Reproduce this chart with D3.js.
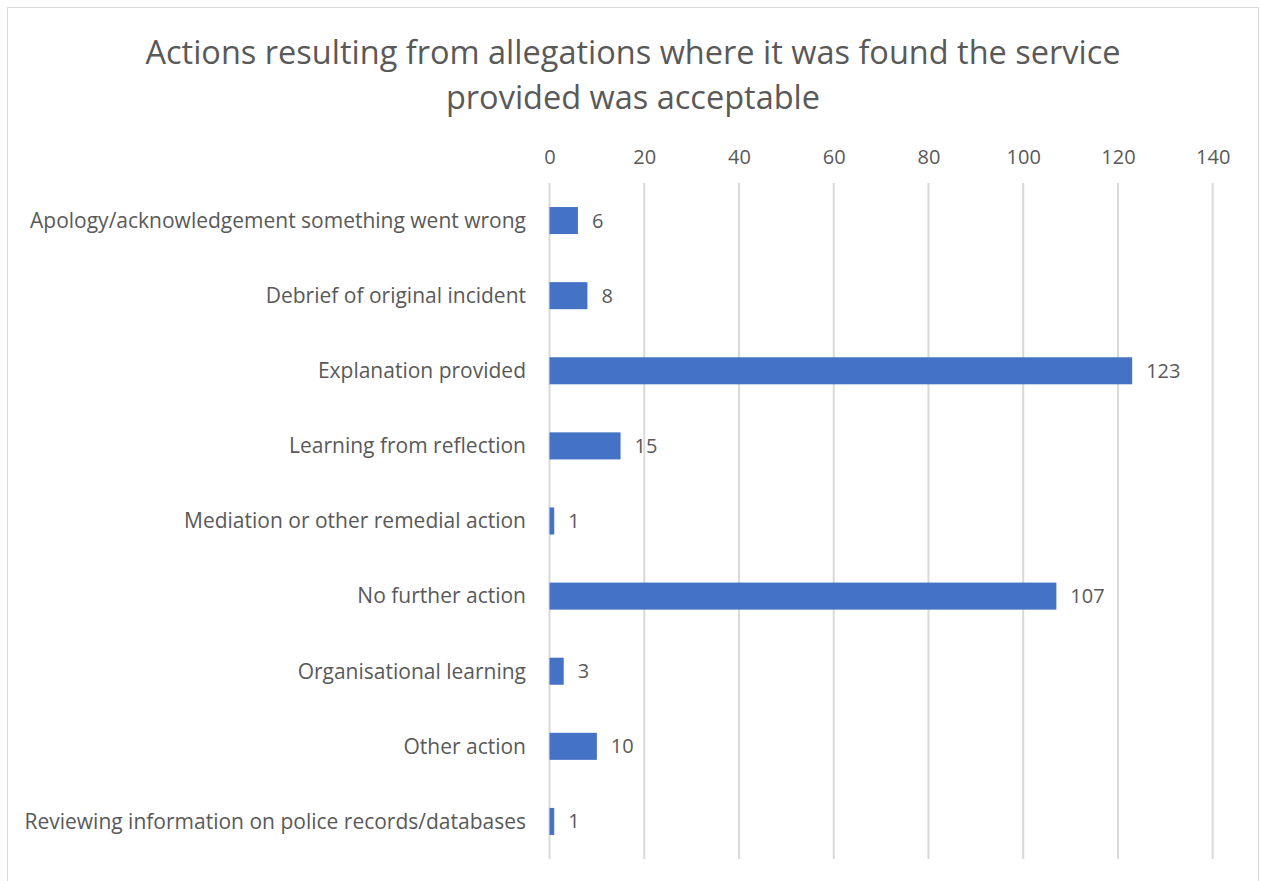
<!DOCTYPE html>
<html><head><meta charset="utf-8">
<script src="https://cdn.jsdelivr.net/npm/d3@7"></script>
<style>body{margin:0;background:#fff}svg{display:block}text{font-family:"Open Sans",sans-serif}</style>
</head><body>
<svg id="c" width="1261" height="881"></svg>
<script>
const categories = [
  "Apology/acknowledgement something went wrong",
  "Debrief of original incident",
  "Explanation provided",
  "Learning from reflection",
  "Mediation or other remedial action",
  "No further action",
  "Organisational learning",
  "Other action",
  "Reviewing information on police records/databases"
];
const values = [6, 8, 123, 15, 1, 107, 3, 10, 1];
const tickValues = [0, 20, 40, 60, 80, 100, 120, 140];
const titleLines = ["Actions resulting from allegations where it was found the service", "provided was acceptable"];

const svg = d3.select("#c");
const textColor = "#595959";
svg.append("rect").attr("x", 7.5).attr("y", 7.5).attr("width", 1251).attr("height", 880)
  .attr("fill", "#fff").attr("stroke", "#d9d9d9");

const x = d3.scaleLinear().domain([0, 140]).range([549.5, 1212.7]);
const y = d3.scaleBand().domain(categories).range([183, 859]).paddingInner(0.64).paddingOuter(0.32);

// title
svg.append("g").selectAll("text").data(titleLines).join("text")
  .attr("x", 633).attr("y", (d, i) => 64 + i * 45)
  .attr("text-anchor", "middle").attr("fill", textColor)
  .style("font-size", "32.5px").text(d => d);

// gridlines
svg.append("g").selectAll("line").data(tickValues).join("line")
  .attr("x1", d => x(d)).attr("x2", d => x(d)).attr("y1", 183).attr("y2", 859)
  .attr("stroke", "#d9d9d9").attr("stroke-width", 2);

// top axis
const axis = svg.append("g").attr("transform", "translate(0,164)")
  .call(d3.axisTop(x).tickValues(tickValues).tickSize(0).tickPadding(0));
axis.select(".domain").remove();
axis.selectAll("text").attr("fill", textColor).style("font-size", "20px").attr("font-family", null);

// category labels
svg.append("g").selectAll("text").data(categories).join("text")
  .attr("x", 526).attr("y", d => y(d) + y.bandwidth() / 2).attr("dy", "0.35em")
  .attr("text-anchor", "end").attr("fill", textColor).style("font-size", "21px").text(d => d);

// bars
svg.append("g").selectAll("rect").data(values).join("rect")
  .attr("x", x(0)).attr("y", (d, i) => y(categories[i]))
  .attr("width", d => x(d) - x(0)).attr("height", y.bandwidth())
  .attr("fill", "#4472C4");

// value labels
svg.append("g").selectAll("text").data(values).join("text")
  .attr("x", d => x(d) + 14).attr("y", (d, i) => y(categories[i]) + y.bandwidth() / 2).attr("dy", "0.35em")
  .attr("fill", textColor).style("font-size", "20px").text(d => d);
</script>
</body></html>
